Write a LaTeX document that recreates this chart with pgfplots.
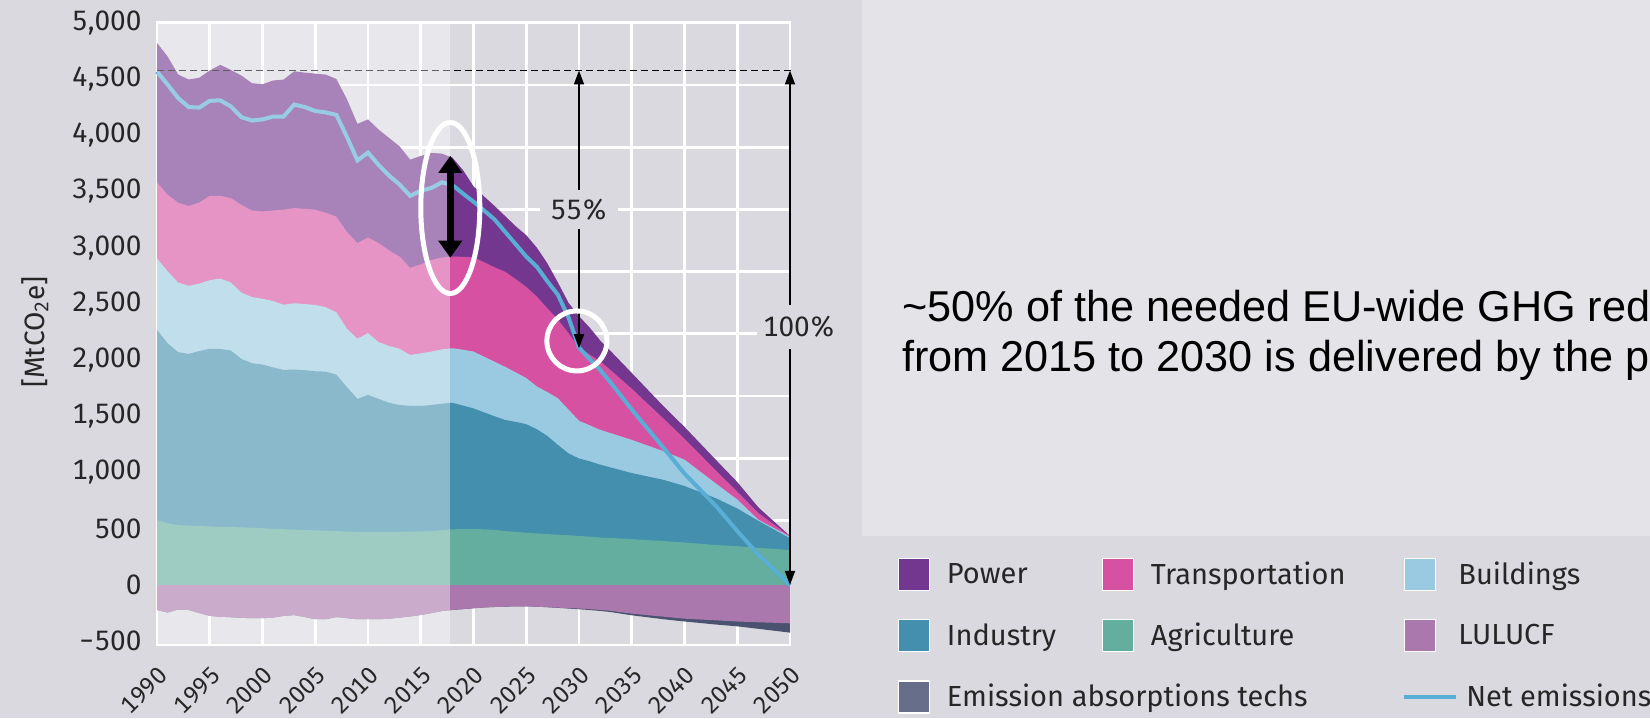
\documentclass[border=0pt]{standalone}
\usepackage{fontspec}
\setmainfont{Fira Sans}[Numbers={Lining,Monospaced}]
\newfontfamily\arialfont{Liberation Sans}
\usepackage{pgfplots}
\usepackage{pgfplotstable}
\pgfplotsset{compat=1.18}
\usetikzlibrary{arrows.meta}

\definecolor{pagebg}{RGB}{218,217,223}
\definecolor{boxbg}{RGB}{227,227,232}
\definecolor{cPower}{RGB}{116,55,143}
\definecolor{cTrans}{RGB}{215,81,163}
\definecolor{cBuild}{RGB}{154,202,225}
\definecolor{cInd}{RGB}{67,143,173}
\definecolor{cAgri}{RGB}{99,174,158}
\definecolor{cLulu}{RGB}{171,120,173}
\definecolor{cAbs}{RGB}{74,82,112}
\definecolor{cAbsLeg}{RGB}{102,110,138}
\definecolor{cNet}{RGB}{88,174,212}
\definecolor{txt}{RGB}{38,38,38}

% cumulative tops of the stacked sectors, MtCO2e
\pgfplotstableread{
year power trans build ind agri lulu absb net
1990 4820 3580 2905 2268 578 -222 -222 4565
1991 4700 3470 2790 2150 548 -245 -245 4450
1992 4540 3400 2690 2070 532 -218 -218 4330
1993 4495 3370 2660 2055 528 -222 -222 4250
1994 4510 3400 2680 2080 524 -250 -250 4245
1995 4575 3460 2710 2100 520 -275 -275 4305
1996 4625 3460 2725 2098 518 -283 -283 4310
1997 4580 3440 2690 2085 515 -287 -287 4255
1998 4530 3380 2600 2010 512 -292 -292 4160
1999 4462 3330 2560 1972 508 -296 -296 4130
2000 4452 3322 2545 1960 505 -296 -296 4140
2001 4486 3330 2525 1935 500 -290 -290 4165
2002 4494 3337 2492 1912 495 -275 -275 4165
2003 4568 3352 2505 1916 492 -268 -268 4272
2004 4556 3345 2498 1910 488 -285 -285 4250
2005 4547 3337 2490 1900 485 -305 -305 4215
2006 4538 3310 2470 1897 482 -305 -305 4202
2007 4500 3275 2425 1870 478 -285 -285 4180
2008 4320 3140 2280 1760 475 -295 -295 3985
2009 4100 3040 2190 1655 472 -305 -305 3775
2010 4140 3090 2240 1690 472 -305 -305 3845
2011 4050 3040 2160 1655 472 -305 -305 3735
2012 3975 2975 2125 1620 472 -300 -300 3640
2013 3900 2920 2100 1600 473 -290 -290 3560
2014 3782 2820 2045 1593 474 -280 -280 3460
2015 3815 2850 2060 1592 476 -267 -267 3505
2016 3842 2890 2075 1600 480 -250 -250 3530
2017 3836 2912 2095 1612 487 -232 -232 3580
2018 3800 2920 2105 1620 495 -222 -222 3557
2019 3690 2918 2092 1595 496 -215 -215 3480
2020 3545 2915 2075 1570 497 -207 -207 3409
2021 3455 2870 2030 1535 495 -200 -200 3330
2022 3370 2825 1985 1500 490 -196 -196 3250
2023 3280 2785 1940 1467 480 -193 -193 3140
2024 3190 2720 1890 1450 472 -190 -190 3030
2025 3110 2650 1840 1430 465 -190 -190 2920
2026 3000 2565 1765 1385 458 -193 -193 2830
2027 2860 2460 1715 1325 452 -198 -198 2700
2028 2690 2360 1660 1245 447 -202 -204 2580
2029 2510 2240 1560 1170 442 -206 -210 2380
2030 2390 2110 1460 1125 435 -210 -216 2110
2031 2290 2050 1420 1100 430 -215 -223 2010
2032 2175 1990 1380 1070 422 -222 -231 1912
2033 2080 1910 1350 1045 418 -230 -241 1800
2035 1885 1745 1290 995 408 -255 -270 1560
2038 1590 1480 1190 935 390 -282 -305 1220
2040 1405 1300 1115 880 378 -300 -325 990
2043 1110 1015 900 770 355 -315 -352 700
2045 915 830 760 680 345 -325 -368 480
2047 690 640 580 570 330 -332 -390 270
2050 435 432 430 415 311 -341 -424 0
}\ghg

\newcommand{\sqimg}[1]{\addlegendimage{legend image code/.code={%
  \draw[fill=#1,draw=white,line width=0.6pt] (0pt,-8pt) rectangle (15.5pt,8pt);
  \path (24pt,0pt);}}}

\begin{document}
\begin{tikzpicture}
\useasboundingbox (0,0) rectangle (825pt,359pt);
\clip (0,0) rectangle (825pt,359pt);
\fill[pagebg] (0,0) rectangle (825pt,359pt);
\fill[boxbg] (431pt,91pt) rectangle (825pt,359pt);
\node[anchor=base west, inner sep=0pt, font=\arialfont\fontsize{21.6}{25}\selectfont]
  at (451pt,198pt) {\textasciitilde 50\% of the needed EU-wide GHG red};
\node[anchor=base west, inner sep=0pt, font=\arialfont\fontsize{21.6}{25}\selectfont]
  at (451pt,173pt) {from 2015 to 2030 is delivered by the p};

\begin{axis}[
    at={(78.5pt,36.5pt)}, anchor=south west,
    scale only axis, width=316.5pt, height=311.15pt,
    xmin=1990, xmax=2050, ymin=-534, ymax=5000,
    clip=false,
    axis line style={draw=white, line width=1.4pt},
    xtick={1990,1995,...,2050},
    xticklabels={1990,1995,2000,2005,2010,2015,2020,2025,2030,2035,2040,2045,2050},
    ytick={-500,0,...,5000},
    yticklabels={−500,0,500,{1,000},{1,500},{2,000},{2,500},{3,000},{3,500},{4,000},{4,500},{5,000}},
    minor ytick={19.4,572.8,1126.2,1679.6,2233,2786.4,3339.8,3893.2,4446.6},
    xmajorgrids, yminorgrids,
    major grid style={draw=white, line width=1.4pt},
    minor grid style={draw=white, line width=1.4pt},
    major tick length=0pt, minor tick length=0pt,
    tick label style={text=txt},
    yticklabel style={inner sep=0pt, xshift=-7.5pt, font=\fontsize{14}{16}\selectfont},
    xticklabel style={inner sep=0pt, anchor=north east, xshift=0pt, yshift=-10pt, rotate=45,
                      font=\fontsize{12}{14}\selectfont},
    ylabel={[MtCO\textsubscript{2}e]},
    ylabel style={at={(axis description cs:-0.193,0.503)}, anchor=center,
                  font=\fontsize{14}{16}\selectfont, text=txt},
    legend columns=3,
    legend cell align=left,
    legend style={at={(axis description cs:1.1706,0.1398)}, anchor=north west,
                  draw=none, fill=none, inner sep=0pt, outer sep=0pt,
                  column sep=0pt, row sep=14pt,
                  nodes={inner sep=0pt, text=txt},
                  font=\fontsize{14.5}{17}\selectfont},
]

% stacked areas, drawn tallest first
\addplot[draw=none, fill=cAbs, forget plot] table[x=year,y=absb]{\ghg} \closedcycle;
\addplot[draw=none, fill=cLulu, forget plot] table[x=year,y=lulu]{\ghg} \closedcycle;
\addplot[draw=none, fill=cPower, forget plot] table[x=year,y=power]{\ghg} \closedcycle;
\addplot[draw=none, fill=cTrans, forget plot] table[x=year,y=trans]{\ghg} \closedcycle;
\addplot[draw=none, fill=cBuild, forget plot] table[x=year,y=build]{\ghg} \closedcycle;
\addplot[draw=none, fill=cInd, forget plot] table[x=year,y=ind]{\ghg} \closedcycle;
\addplot[draw=none, fill=cAgri, forget plot] table[x=year,y=agri]{\ghg} \closedcycle;
\addplot[cNet, line width=2pt, forget plot] table[x=year,y=net]{\ghg};

\draw[black, line width=0.7pt, dash pattern=on 3.5pt off 2pt]
  (axis cs:1990,4575) -- (axis cs:2050.35,4575);

% historical period lighter
\fill[white, fill opacity=0.38] (axis cs:1990,-534) rectangle (axis cs:2017.8,5000);

% annotations
\draw[line width=0.8pt, {Triangle[width=5pt,length=7pt]}-{Triangle[width=5pt,length=7pt]}]
  (axis cs:2030,4575) -- (axis cs:2030,2105);
\node[fill=pagebg, inner xsep=5.5pt, inner ysep=4.5pt, text=txt,
      font=\fontsize{14}{16}\selectfont] at (axis cs:2030,3337) {55\%};
\draw[line width=0.8pt, {Triangle[width=5pt,length=7pt]}-{Triangle[width=5pt,length=7pt]}]
  (axis cs:2050,4575) -- (axis cs:2050,0);
\node[fill=pagebg, inner xsep=3pt, inner ysep=5.5pt, text=txt,
      font=\fontsize{14}{16}\selectfont] at (axis cs:2050.85,2294) {100\%};
\draw[line width=3.5pt, {Triangle[width=11.5pt,length=8.5pt]}-{Triangle[width=11.5pt,length=8.5pt]}]
  (axis cs:2017.8,2910) -- (axis cs:2017.8,3815);
\draw[white, line width=2.5pt] (axis cs:2017.8,3352) ellipse [x radius=14.75pt, y radius=42.75pt];
\draw[white, line width=2.5pt] (axis cs:2029.8,2170) circle [radius=15pt];

% legend
\sqimg{cPower} \addlegendentry{\makebox[77.5pt][l]{Power}}
\sqimg{cTrans} \addlegendentry{\makebox[125.5pt][l]{Transportation}}
\sqimg{cBuild} \addlegendentry{Buildings}
\sqimg{cInd}   \addlegendentry{\makebox[77.5pt][l]{Industry}}
\sqimg{cAgri}  \addlegendentry{\makebox[125.5pt][l]{Agriculture}}
\sqimg{cLulu}  \addlegendentry{LULUCF}
\sqimg{cAbsLeg} \addlegendentry{\makebox[77.5pt][l]{Emission absorptions techs}}
\addlegendimage{empty legend} \addlegendentry{}
\addlegendimage{legend image code/.code={%
  \draw[cNet,line width=2.2pt] (0pt,0pt) -- (26pt,0pt);
  \path (0pt,-8pt) (24pt,8pt);}}
\addlegendentry{\hspace{4pt}Net emissions}

\end{axis}
\end{tikzpicture}
\end{document}
